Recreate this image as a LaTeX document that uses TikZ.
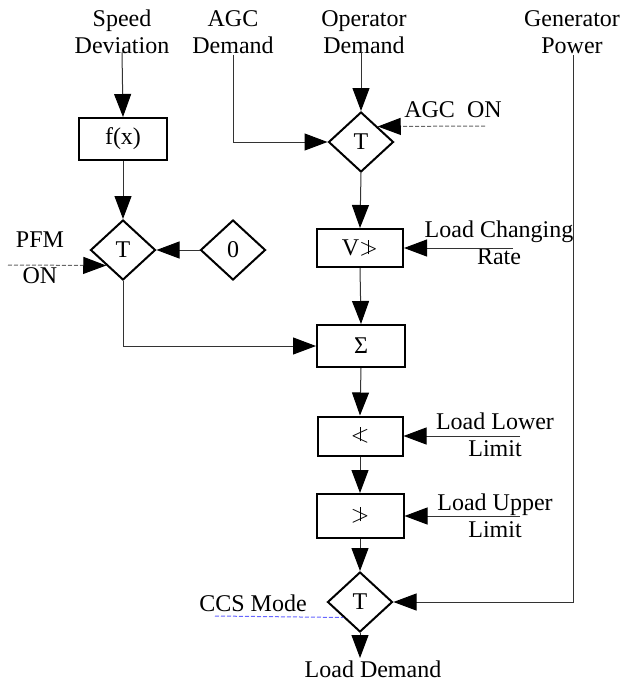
\documentclass[tikz,border=0pt]{standalone}
\usepackage{fontspec}
\setmainfont{Liberation Serif}
\usetikzlibrary{shapes.geometric,arrows.meta}
\newcommand{\ngtrbar}{\ooalign{$>$\cr\hidewidth\raisebox{0.05em}{\rule{0.04em}{0.6em}}\hidewidth}}
\newcommand{\nlessbar}{\ooalign{$<$\cr\hidewidth\raisebox{0.05em}{\rule{0.04em}{0.6em}}\hidewidth}}
\begin{document}
\begin{tikzpicture}[x=1pt,y=-1pt,
  every node/.style={font=\fontsize{24}{27}\selectfont},
  txt/.style={align=center,inner sep=0pt},
  blk/.style={draw,line width=2pt,inner sep=0pt},
  dia/.style={draw,diamond,line width=2pt,inner sep=0pt,minimum width=65pt,minimum height=60pt},
  conn/.style={line width=1pt,draw=black!80},
  tip/.style={-{Triangle[length=23pt,width=17pt,black]}},
  arr/.style={conn,tip},
  dsh/.style={line width=1pt,draw=black!60,dashed,dash pattern=on 4pt off 2pt}]
\useasboundingbox (0,0) rectangle (623,683);
% labels
\node[txt] (sd) at (122,32) {Speed\\Deviation};
\node[txt] (agcd) at (233,32) {AGC\\Demand};
\node[txt] (opd) at (364,32) {Operator\\Demand};
\node[txt] (gp) at (572,32) {Generator\\Power};
\node[txt] (agcon) at (453,110) {AGC\ \ ON};
\node[txt] (pfm) at (40,258) {PFM\\[9pt]ON};
\node[txt] (lcr) at (499,243) {Load Changing\\Rate};
\node[txt] (llow) at (495,435) {Load Lower\\Limit};
\node[txt] (lup) at (495,516) {Load Upper\\Limit};
\node[txt] (ccs) at (253,603) {CCS Mode};
\node[txt] (ld) at (373,669) {Load Demand};
% blocks
\node[blk,minimum width=88pt,minimum height=42pt] (fx) at (123,139) {f(x)};
\node[dia] (t1) at (123,250) {T};
\node[dia] (z) at (233,250) {0};
\node[dia] (t2) at (361,142) {T};
\node[blk,minimum width=86pt,minimum height=38pt] (v) at (360,248) {V\ngtrbar};
\node[blk,minimum width=88pt,minimum height=42pt] (sig) at (361,346) {Σ};
\node[blk,minimum width=85pt,minimum height=39pt] (lt) at (360,436) {\nlessbar};
\node[blk,minimum width=87pt,minimum height=44pt] (gt) at (360,516) {\ngtrbar};
\node[dia] (t3) at (360,602) {T};
% free ends
\coordinate (sdo) at (122,52);
\coordinate (agco) at (233,55);
\coordinate (opo) at (361,52);
\coordinate (gpo) at (573,55);
\coordinate (pfmo) at (8,265);
\coordinate (agcono) at (485,126);
\coordinate (lcro) at (513,248);
\coordinate (llowo) at (520,436);
\coordinate (lupo) at (520,516);
\coordinate (ccso) at (215,616);
\coordinate (ldo) at (360,658);
% connectors
\draw[arr] (sdo) -- (fx.north);
\draw[arr] (fx.south) -- (t1.north);
\draw[arr] (z.west) -- (t1.east);
\draw[dsh,tip] (pfmo) -- (t1.south west);
\draw[arr] (t1.south) |- (sig.west);
\draw[arr] (agco) |- (t2.west);
\draw[arr] (opo) -- (t2.north);
\draw[dsh,tip] (agcono) -- (t2.north east);
\draw[arr] (t2.south) -- (v.north);
\draw[arr] (lcro) -- (v.east);
\draw[arr] (v.south) -- (sig.north);
\draw[arr] (sig.south) -- (lt.north);
\draw[arr] (llowo) -- (lt.east);
\draw[arr] (lt.south) -- (gt.north);
\draw[arr] (lupo) -- (gt.east);
\draw[arr] (gt.south) -- (t3.north);
\draw[arr] (gpo) |- (t3.east);
\draw[dsh,draw=blue!60!white] (ccso) -- (t3.south west);
\draw[arr] (t3.south) -- (ldo);
\end{tikzpicture}
\end{document}
